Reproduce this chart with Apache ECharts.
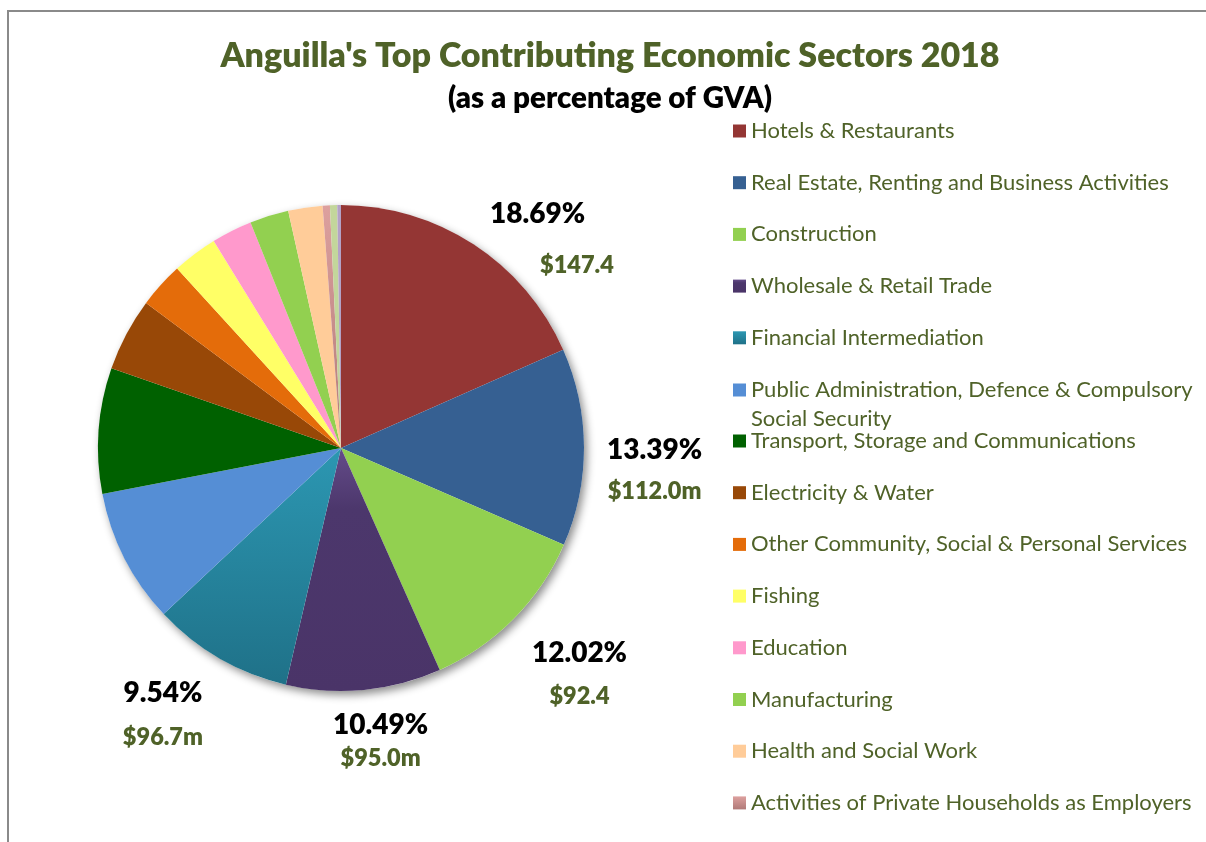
<!DOCTYPE html>
<html>
<head>
<meta charset="utf-8">
<script src="https://cdn.jsdelivr.net/npm/echarts@6/dist/echarts.min.js"></script>
<style>
  html, body { margin: 0; padding: 0; background: #fff; }
  #wrap { position: relative; width: 1206px; height: 842px; overflow: hidden; }
  #frame { position: absolute; left: 7px; top: 10px; width: 1300px; height: 900px;
           border-left: 2px solid #8a8a8a; border-top: 2px solid #8a8a8a; box-sizing: border-box; }
  #chart { position: absolute; left: 0; top: 0; width: 1206px; height: 842px; }
</style>
</head>
<body>
<div id="wrap">
  <div id="frame"></div>
  <div id="chart"></div>
</div>
<script>
// ---- data ----
const titleText = "Anguilla's Top Contributing Economic Sectors 2018";
const subtitleText = "(as a percentage of GVA)";
const sectors = [
  'Hotels & Restaurants',
  'Real Estate, Renting and Business Activities',
  'Construction',
  'Wholesale & Retail Trade',
  'Financial Intermediation',
  'Public Administration, Defence & Compulsory Social Security',
  'Transport, Storage and Communications',
  'Electricity & Water',
  'Other Community, Social & Personal Services',
  'Fishing',
  'Education',
  'Manufacturing',
  'Health and Social Work',
  'Activities of Private Households as Employers',
  'Mining & Quarrying',
  'Crops & Livestock'
];
const shares = [18.69, 13.39, 12.02, 10.49, 9.54, 9.11, 8.49, 4.95, 3.09, 3.06, 2.75, 2.63, 2.32, 0.49, 0.49, 0.25];
const pctLabels = ['18.69%', '13.39%', '12.02%', '10.49%', '9.54%'];
const valueLabels = ['$147.4', '$112.0m', '$92.4', '$95.0m', '$96.7m'];
const legendNames = sectors.slice(0, 14);

// ---- styles ----
const colors = [
  '#943634', '#366092', '#92D050',
  new echarts.graphic.LinearGradient(0, 0, 0, 1, [{offset: 0, color: '#654C8A'}, {offset: 0.25, color: '#4C376C'}, {offset: 1, color: '#4A3468'}]),
  new echarts.graphic.LinearGradient(0, 0, 0, 1, [{offset: 0, color: '#2C97B2'}, {offset: 1, color: '#1F7188'}]),
  '#558ED5', '#006100', '#984807', '#E46C0A', '#FFFF66', '#FF99CC',
  '#92D050', '#FFCC99',
  new echarts.graphic.LinearGradient(0, 0, 0, 1, [{offset: 0, color: '#DDA09E'}, {offset: 1, color: '#B07A78'}]),
  '#C3D69B', '#B3A2C7'
];
const olive = '#4F6228';
const FONT = 'Lato';
const HEAVY = 800;
// line gaps and offsets for the five data labels
const labelGap = [51, 41, 43, 33, 44];
const labelShift = [[6, 3.5], [8, 23.4], [6.3, 48.4], [-36.9, 41.6], [-6.5, 47.9]];

function richFor(i) {
  const g = labelGap[i];
  const hotel = i === 0;
  return {
    p: { fontFamily: FONT, fontSize: 28, fontWeight: HEAVY, color: '#000', lineHeight: g, align: hotel ? 'left' : 'center' },
    v: { fontFamily: FONT, fontSize: 23.5, fontWeight: HEAVY, color: olive, lineHeight: g, align: hotel ? 'left' : 'center',
         padding: hotel ? [0, 0, 0, 50] : 0 }
  };
}

const pieData = sectors.map((name, i) => ({
  name: name,
  value: shares[i],
  itemStyle: { color: colors[i] },
  label: i < pctLabels.length ? { show: true, rich: richFor(i) } : { show: false }
}));

const legendBase = {
  orient: 'vertical', left: 733, padding: 0,
  itemWidth: 13, itemHeight: 13, icon: 'rect', itemGap: 22.7,
  selectedMode: false,
  textStyle: { fontFamily: FONT, fontSize: 22, color: olive, lineHeight: 29 }
};

const chart = echarts.init(document.getElementById('chart'), null, { renderer: 'canvas' });
chart.setOption({
  backgroundColor: 'transparent',
  animation: false,
  graphic: [
    { type: 'text', x: 610, y: 56, style: { text: titleText, fill: olive, fontFamily: FONT, fontSize: 34, fontWeight: HEAVY, align: 'center', verticalAlign: 'middle', textAlign: 'center', textVerticalAlign: 'middle' } },
    { type: 'text', x: 610, y: 98, style: { text: subtitleText, fill: '#000', fontFamily: FONT, fontSize: 29.5, fontWeight: HEAVY, align: 'center', verticalAlign: 'middle', textAlign: 'center', textVerticalAlign: 'middle' } }
  ],
  legend: [
    Object.assign({}, legendBase, { top: 116.5, data: legendNames.slice(0, 5) }),
    Object.assign({}, legendBase, { top: 346.5, formatter: (name) => '\n' + name,
      data: [{ name: legendNames[5], textStyle: { width: 450, overflow: 'break' } }] }),
    Object.assign({}, legendBase, { top: 426.5, data: legendNames.slice(6) })
  ],
  series: [
    {
      type: 'pie', name: 'shadow', silent: true, center: [341, 448], radius: 243,
      label: { show: false }, labelLine: { show: false },
      itemStyle: { color: '#ffffff', shadowBlur: 8, shadowOffsetX: 3, shadowOffsetY: 4, shadowColor: 'rgba(0,0,0,0.45)' },
      data: [{ value: 1, name: 'shadow' }]
    },
    {
      type: 'pie', name: 'GVA share', center: [341, 448], radius: 243,
      startAngle: 90, clockwise: true, avoidLabelOverlap: false,
      itemStyle: { borderWidth: 0 },
      emphasis: { disabled: true },
      label: {
        position: 'outside',
        formatter: (p) => '{p|' + pctLabels[p.dataIndex] + '}\n{v|' + valueLabels[p.dataIndex] + '}'
      },
      labelLine: { show: false, length: 10, length2: 0 },
      labelLayout: (params) => {
        const s = labelShift[params.dataIndex];
        return s ? { dx: s[0], dy: s[1] } : {};
      },
      data: pieData
    }
  ]
});
</script>
</body>
</html>
